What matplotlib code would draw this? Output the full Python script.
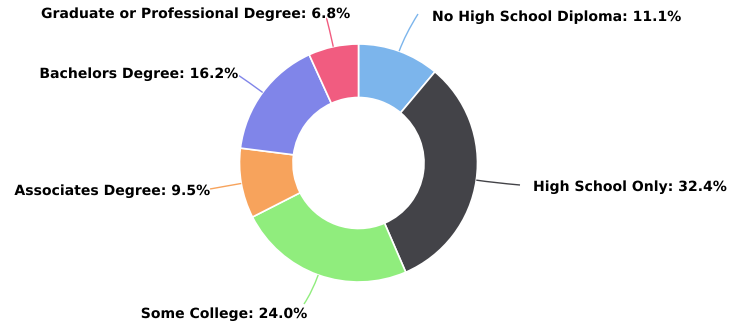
import numpy as np
import matplotlib
matplotlib.use("Agg")
import matplotlib.pyplot as plt
import matplotlib.patheffects as pe
from matplotlib.path import Path
from matplotlib.patches import PathPatch

categories = ['No High School Diploma', 'High School Only', 'Some College',
              'Associates Degree', 'Bachelors Degree', 'Graduate or Professional Degree']
shares = [11.1, 32.4, 24.0, 9.5, 16.2, 6.8]
colors = ['#7cb5ec', '#434348', '#90ed7d', '#f7a35c', '#8085e9', '#f15c80']

# label placement in figure pixels (x of text edge, y of text centre, alignment)
label_pos = [(432, 17, 'left'), (533, 187, 'left'), (307, 314, 'right'),
             (210, 191, 'right'), (238, 74, 'right'), (350, 14, 'right')]
# where each connector line ends
conn_end = [(418, 14), (520, 185), (304, 304), (210, 189), (238, 75), (326, 16)]

W, H = 731, 326
cx, cy, r = 358.5, H - 163, 119
inner = 65.5

fig = plt.figure(figsize=(W / 100, H / 100), dpi=100)
ax = fig.add_axes([0, 0, 1, 1])
wedges, _ = ax.pie(shares, colors=colors, startangle=90, counterclock=False,
                   center=(cx, cy), radius=r,
                   wedgeprops=dict(width=r - inner, edgecolor='white', linewidth=1.2))
ax.set_xlim(0, W)
ax.set_ylim(0, H)
ax.set_aspect('equal')
ax.axis('off')

cum = np.cumsum([0] + shares)
for i, name in enumerate(categories):
    mid = np.deg2rad((cum[i] + cum[i + 1]) / 2 / 100 * 360)
    sx, sy = cx + r * np.sin(mid), cy + r * np.cos(mid)
    ex, ey = conn_end[i][0], H - conn_end[i][1]
    # soft connector: bend outward from the slice before turning to the label
    kx, ky = cx + (r + 18) * np.sin(mid), cy + (r + 18) * np.cos(mid)
    path = Path([(sx, sy), (kx, ky), (ex, ey)], [Path.MOVETO, Path.CURVE3, Path.CURVE3])
    ax.add_patch(PathPatch(path, facecolor='none', edgecolor=colors[i], lw=1))
    lx, ly, ha = label_pos[i]
    ax.text(lx, H - ly, f'{name}: {shares[i]:.1f}%', ha=ha, va='center',
            fontsize=10.1, fontweight='bold', color='black',
            path_effects=[pe.withStroke(linewidth=2, foreground='white')])

fig.savefig('out.png', dpi=100)
